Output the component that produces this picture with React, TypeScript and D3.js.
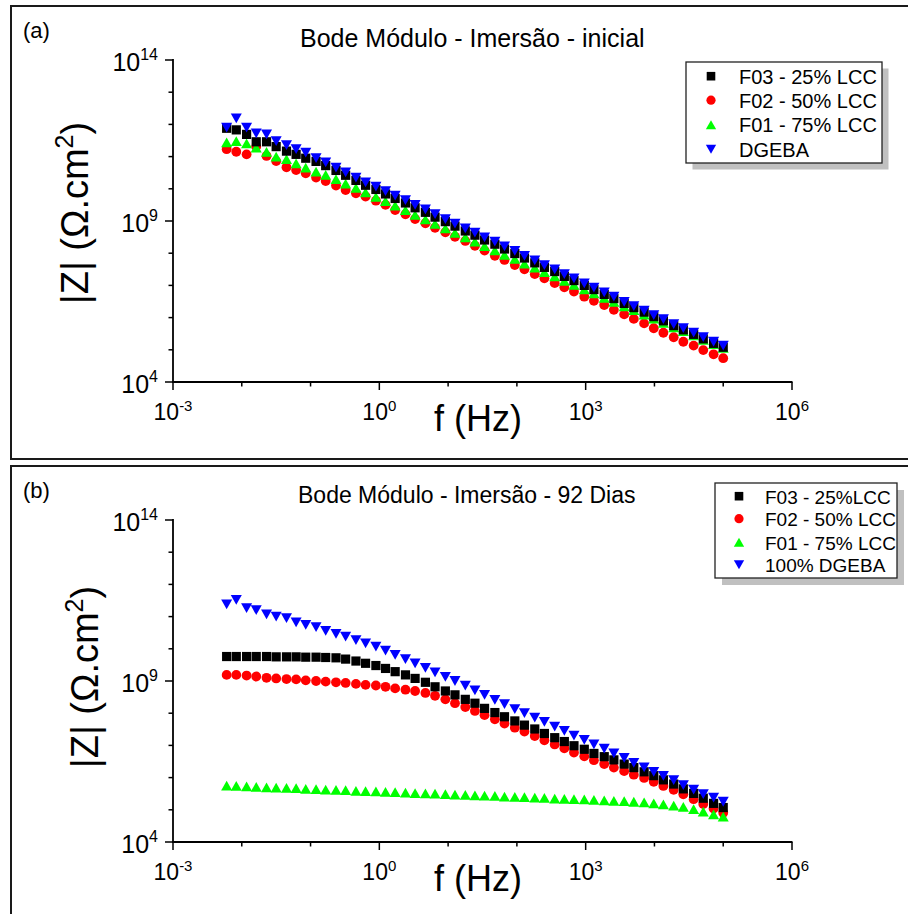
import React from 'react';
import * as d3 from 'd3';

const FONT = '"Liberation Sans", Arial, Helvetica, sans-serif';

// log10 of frequency (Hz)
const logFreq = [-2.22, -2.08, -1.93, -1.79, -1.64, -1.50, -1.35, -1.21, -1.07, -0.92, -0.78, -0.63, -0.49, -0.34, -0.20, -0.05, 0.09, 0.23, 0.38, 0.52, 0.67, 0.81, 0.96, 1.10, 1.25, 1.39, 1.53, 1.68, 1.82, 1.97, 2.11, 2.26, 2.40, 2.55, 2.69, 2.83, 2.98, 3.12, 3.27, 3.41, 3.56, 3.70, 3.85, 3.99, 4.13, 4.28, 4.42, 4.57, 4.71, 4.86, 5.00];

// Panel (a) - inicial: log10 |Z|
const aF03 = [11.88, 11.83, 11.69, 11.46, 11.46, 11.31, 11.17, 11.07, 10.95, 10.85, 10.72, 10.57, 10.42, 10.26, 10.11, 9.98, 9.84, 9.70, 9.56, 9.41, 9.27, 9.12, 8.98, 8.84, 8.69, 8.56, 8.41, 8.28, 8.13, 7.99, 7.85, 7.70, 7.56, 7.43, 7.28, 7.15, 7.00, 6.87, 6.72, 6.59, 6.44, 6.31, 6.17, 6.03, 5.90, 5.75, 5.62, 5.48, 5.34, 5.20, 5.08];
const aF02 = [11.23, 11.15, 11.07, 11.31, 11.02, 10.86, 10.67, 10.58, 10.48, 10.35, 10.24, 10.10, 9.96, 9.86, 9.76, 9.63, 9.50, 9.34, 9.21, 9.06, 8.93, 8.79, 8.65, 8.51, 8.38, 8.23, 8.08, 7.92, 7.79, 7.63, 7.50, 7.35, 7.22, 7.07, 6.94, 6.81, 6.65, 6.52, 6.39, 6.24, 6.10, 5.96, 5.82, 5.67, 5.53, 5.39, 5.25, 5.13, 4.99, 4.86, 4.74];
const aF01 = [11.44, 11.48, 11.41, 11.28, 11.15, 11.00, 10.92, 10.79, 10.66, 10.53, 10.43, 10.30, 10.16, 10.03, 9.89, 9.75, 9.62, 9.48, 9.34, 9.19, 9.05, 8.91, 8.77, 8.63, 8.49, 8.36, 8.22, 8.09, 7.95, 7.82, 7.68, 7.55, 7.41, 7.28, 7.14, 7.02, 6.88, 6.75, 6.61, 6.49, 6.35, 6.23, 6.09, 5.97, 5.84, 5.70, 5.58, 5.45, 5.31, 5.18, 5.06];
const aDGEBA = [11.90, 12.19, 11.90, 11.72, 11.69, 11.48, 11.36, 11.23, 11.12, 10.95, 10.82, 10.66, 10.51, 10.35, 10.20, 10.07, 9.93, 9.79, 9.65, 9.50, 9.36, 9.21, 9.06, 8.92, 8.77, 8.64, 8.49, 8.36, 8.21, 8.07, 7.92, 7.78, 7.63, 7.50, 7.35, 7.22, 7.06, 6.93, 6.78, 6.65, 6.49, 6.36, 6.22, 6.08, 5.95, 5.80, 5.67, 5.53, 5.39, 5.25, 5.13];

// Panel (b) - 92 dias: log10 |Z|
const bF03 = [9.76, 9.76, 9.76, 9.76, 9.76, 9.75, 9.75, 9.75, 9.74, 9.74, 9.73, 9.72, 9.68, 9.62, 9.55, 9.48, 9.39, 9.29, 9.19, 9.08, 8.96, 8.82, 8.69, 8.57, 8.43, 8.31, 8.15, 8.02, 7.89, 7.76, 7.63, 7.51, 7.37, 7.24, 7.12, 6.99, 6.88, 6.75, 6.65, 6.55, 6.42, 6.31, 6.18, 6.06, 5.93, 5.80, 5.65, 5.51, 5.36, 5.20, 5.07];
const bF02 = [9.19, 9.19, 9.17, 9.14, 9.10, 9.08, 9.06, 9.05, 9.02, 9.00, 8.98, 8.96, 8.94, 8.91, 8.88, 8.86, 8.82, 8.77, 8.73, 8.69, 8.63, 8.54, 8.43, 8.31, 8.19, 8.07, 7.94, 7.81, 7.68, 7.55, 7.43, 7.29, 7.16, 7.03, 6.91, 6.78, 6.66, 6.54, 6.42, 6.31, 6.20, 6.09, 5.99, 5.87, 5.74, 5.62, 5.48, 5.33, 5.18, 5.04, 4.91];
const bF01 = [5.75, 5.74, 5.73, 5.71, 5.70, 5.69, 5.68, 5.67, 5.65, 5.64, 5.63, 5.62, 5.61, 5.59, 5.58, 5.57, 5.56, 5.55, 5.53, 5.52, 5.51, 5.50, 5.49, 5.47, 5.46, 5.45, 5.44, 5.43, 5.41, 5.40, 5.39, 5.38, 5.37, 5.35, 5.34, 5.33, 5.32, 5.31, 5.29, 5.28, 5.27, 5.25, 5.23, 5.20, 5.17, 5.13, 5.09, 5.02, 4.94, 4.86, 4.79];
const bDGEBA = [11.38, 11.52, 11.26, 11.20, 11.07, 11.00, 10.95, 10.82, 10.74, 10.67, 10.56, 10.46, 10.38, 10.27, 10.17, 10.07, 9.94, 9.81, 9.68, 9.55, 9.41, 9.27, 9.13, 9.00, 8.86, 8.71, 8.57, 8.41, 8.28, 8.13, 8.00, 7.86, 7.73, 7.58, 7.45, 7.30, 7.17, 7.03, 6.90, 6.75, 6.61, 6.46, 6.32, 6.18, 6.05, 5.92, 5.77, 5.63, 5.49, 5.38, 5.25];

const legendA = ['F03 - 25% LCC', 'F02 - 50% LCC', 'F01 - 75% LCC', 'DGEBA'];
const legendB = ['F03 - 25%LCC', 'F02 - 50% LCC', 'F01 - 75% LCC', '100% DGEBA'];
const seriesColors = ['#000000', '#ff0000', '#00ff00', '#0000ff'];
const seriesShapes = ['square', 'circle', 'triangle', 'triangleDown'];
const drawOrder = [1, 2, 0, 3];

const xTickExps = [-3, -2, -1, 0, 1, 2, 3, 4, 5, 6];
const xLabelExps = [-3, 0, 3, 6];
const yTickExps = [4, 5, 6, 7, 8, 9, 10, 11, 12, 13, 14];
const yLabelExps = [4, 9, 14];

function markerPath(shape: string, s: number): string {
  if (shape === 'square') {
    const h = s / 2;
    return `M${-h},${-h}H${h}V${h}H${-h}Z`;
  }
  if (shape === 'circle') {
    const r = s / 2 + 0.3;
    return `M${r},0A${r},${r} 0 1,1 ${-r},0A${r},${r} 0 1,1 ${r},0Z`;
  }
  const w = s * 0.6;
  const hh = s * 0.53;
  if (shape === 'triangle') return `M0,${-hh}L${w},${hh}L${-w},${hh}Z`;
  return `M0,${hh}L${w},${-hh}L${-w},${-hh}Z`;
}

type PanelProps = {
  top: number;
  bottom: number | null;
  axisTop: number;
  tag: string;
  title: string;
  titleX: number;
  titleY: number;
  titleFs: number;
  series: number[][];
  legend: string[];
  lg: { x: number; y: number; w: number; h: number; mx: number; tx: number; rows: number[]; fs: number; shadow: number };
  yLabelX: number;
  yLabelY: number;
};

function Panel(p: PanelProps) {
  const x = d3.scaleLog().domain([1e-3, 1e6]).range([173, 792]);
  const y = d3.scaleLog().domain([1e4, 1e14]).range([p.axisTop + 322, p.axisTop]);
  const y0 = y(1e4);
  const x0 = x(1e-3);
  const frame =
    p.bottom === null
      ? `M910,${p.top}H11V${p.top + 460}`
      : `M910,${p.top}H11V${p.bottom}H910`;
  return (
    <g fontFamily={FONT}>
      <path d={frame} fill="none" stroke="#1a1a1a" strokeWidth={2} />
      <text x={23} y={p.top + 31.5} fontSize={22}>{p.tag}</text>
      <text x={p.titleX} y={p.titleY} fontSize={p.titleFs}>{p.title}</text>

      {/* markers */}
      {drawOrder.map((si) => (
        <g key={si} fill={seriesColors[si]}>
          {p.series[si].map((v, i) => (
            <path
              key={i}
              transform={`translate(${x(Math.pow(10, logFreq[i]))},${y(Math.pow(10, v))})`}
              d={markerPath(seriesShapes[si], 9.2)}
            />
          ))}
        </g>
      ))}

      {/* axes */}
      <line x1={x0} x2={x0} y1={y(1e14) - 1} y2={y0} stroke="#000" strokeWidth={1.8} />
      <line x1={x0 - 1} x2={x(1e6) + 0.5} y1={y0} y2={y0} stroke="#000" strokeWidth={1.8} />
      {yTickExps.map((e) => {
        const yy = y(Math.pow(10, e));
        const major = yLabelExps.includes(e);
        return (
          <g key={'y' + e}>
            <line x1={x0 - (major ? 8 : 4.5)} x2={x0} y1={yy} y2={yy} stroke="#000" strokeWidth={1.5} />
            {major && (
              <text x={x0 - 15} y={yy + 11} fontSize={25} textAnchor="end">
                10<tspan dy={-11} fontSize={16}>{e}</tspan>
              </text>
            )}
          </g>
        );
      })}
      {xTickExps.map((e) => {
        const xx = x(Math.pow(10, e));
        const major = xLabelExps.includes(e);
        return (
          <g key={'x' + e}>
            <line x1={xx} x2={xx} y1={y0} y2={y0 + (major ? 8 : 4.5)} stroke="#000" strokeWidth={1.5} />
            {major && (
              <text x={xx} y={y0 + 38} fontSize={23} textAnchor="middle">
                10<tspan dy={-9} fontSize={15}>{String(e)}</tspan>
              </text>
            )}
          </g>
        );
      })}

      <text x={478} y={y0 + 49} fontSize={36} textAnchor="middle">f (Hz)</text>
      <text transform={`translate(${p.yLabelX},${p.yLabelY}) rotate(-90)`} fontSize={38} textAnchor="middle">
        |Z| (Ω.cm<tspan dy={-15} fontSize={25}>2</tspan><tspan dy={15}>)</tspan>
      </text>

      {/* legend */}
      <rect x={p.lg.x + p.lg.shadow} y={p.lg.y + p.lg.shadow} width={p.lg.w} height={p.lg.h} fill="#c0c0c0" />
      <rect x={p.lg.x} y={p.lg.y} width={p.lg.w} height={p.lg.h} fill="#fff" stroke="#222" strokeWidth={1.3} />
      {p.legend.map((t, i) => (
        <g key={t}>
          <path
            transform={`translate(${p.lg.mx},${p.lg.rows[i] - 7.3})`}
            d={markerPath(seriesShapes[i], 8.6)}
            fill={seriesColors[i]}
          />
          <text x={p.lg.tx} y={p.lg.rows[i]} fontSize={p.lg.fs}>{t}</text>
        </g>
      ))}
    </g>
  );
}

export default function App() {
  return (
    <svg width={908} height={914} style={{ position: 'absolute', left: 0, top: 0, background: '#fff' }}>
      <rect x={0} y={0} width={908} height={914} fill="#fff" />
      <Panel
        top={6}
        bottom={459}
        axisTop={60}
        tag="(a)"
        title="Bode Módulo - Imersão - inicial"
        titleX={300}
        titleY={47}
        titleFs={25}
        series={[aF03, aF02, aF01, aDGEBA]}
        legend={legendA}
        lg={{ x: 686, y: 62, w: 196, h: 101, mx: 711, tx: 739, rows: [83.5, 107.5, 132, 156.5], fs: 20, shadow: 6.5 }}
        yLabelX={88}
        yLabelY={213}
      />
      <Panel
        top={466}
        bottom={null}
        axisTop={520}
        tag="(b)"
        title="Bode Módulo - Imersão - 92 Dias"
        titleX={298}
        titleY={503}
        titleFs={23}
        series={[bF03, bF02, bF01, bDGEBA]}
        legend={legendB}
        lg={{ x: 715, y: 483, w: 182, h: 95, mx: 739, tx: 765, rows: [503.5, 526, 549.5, 572], fs: 19, shadow: 7 }}
        yLabelX={98}
        yLabelY={677}
      />
    </svg>
  );
}
